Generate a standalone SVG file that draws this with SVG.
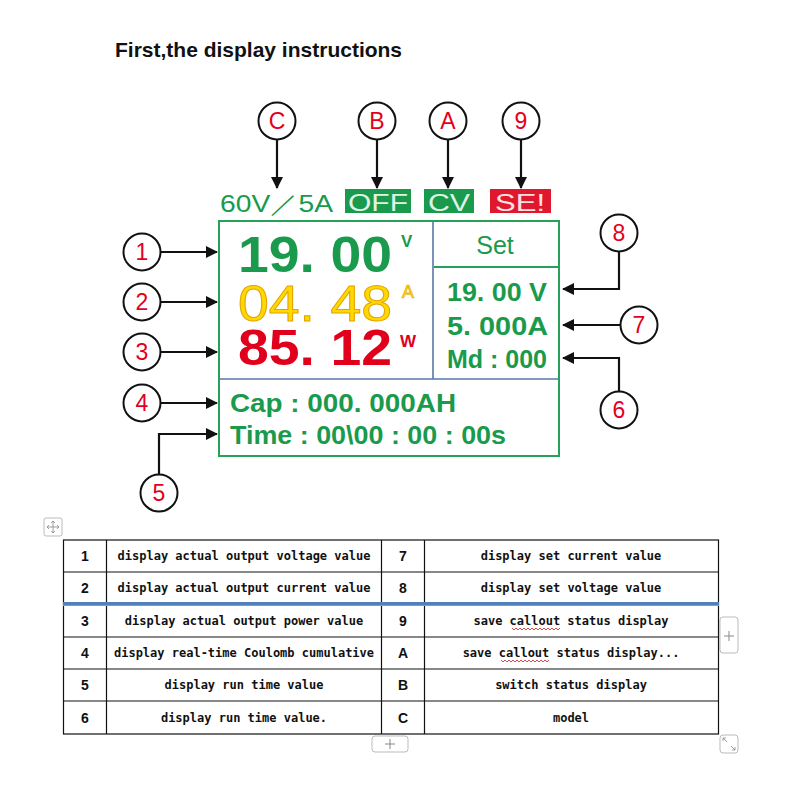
<svg xmlns="http://www.w3.org/2000/svg" width="800" height="800" viewBox="0 0 800 800">
<defs>
<marker id="ah" viewBox="0 0 12 12" refX="11" refY="6" markerWidth="12" markerHeight="12" markerUnits="userSpaceOnUse" orient="auto"><path d="M0,0 L12,6 L0,12 z" fill="#111"/></marker>
<style>
.t{font-family:"Liberation Sans",Arial,sans-serif}
.c{fill:#fff;stroke:#111;stroke-width:2}
.cl{font-family:"Liberation Sans",Arial,sans-serif;font-size:23px;fill:#e3001b;text-anchor:middle}
.ln{fill:none;stroke:#111;stroke-width:2.2}
.g{fill:#1a9a4c}
.big{font-family:"Liberation Sans",Arial,sans-serif;font-size:50px}
.mono{font-family:"DejaVu Sans Mono","Liberation Mono",monospace;font-weight:bold;font-size:12px;fill:#111;text-anchor:middle}
.num{font-family:"Liberation Sans",Arial,sans-serif;font-weight:bold;font-size:14px;fill:#111;text-anchor:middle}
.grid{stroke:#111;stroke-width:1.2;fill:none}
.ui{fill:#fff;stroke:#bbb;stroke-width:1}
.wav{fill:none;stroke:#d02020;stroke-width:0.8}
</style>
</defs>
<rect width="800" height="800" fill="#fff"/>
<text class="t" x="115" y="57" font-size="21" font-weight="bold" fill="#111">First,the display instructions</text>

<!-- connectors -->
<g id="connectors">
<path class="ln" d="M277,140 V188" marker-end="url(#ah)"/>
<path class="ln" d="M377,140 V188" marker-end="url(#ah)"/>
<path class="ln" d="M448,140 V188" marker-end="url(#ah)"/>
<path class="ln" d="M521,140 V188" marker-end="url(#ah)"/>
<path class="ln" d="M160,252 H217" marker-end="url(#ah)"/>
<path class="ln" d="M160,302 H217" marker-end="url(#ah)"/>
<path class="ln" d="M160,352 H217" marker-end="url(#ah)"/>
<path class="ln" d="M160,403 H217" marker-end="url(#ah)"/>
<path class="ln" d="M159,475 V434 H217" marker-end="url(#ah)"/>
<path class="ln" d="M619,251 V289 H563" marker-end="url(#ah)"/>
<path class="ln" d="M620,325 H563" marker-end="url(#ah)"/>
<path class="ln" d="M619,392 V358 H563" marker-end="url(#ah)"/>
</g>

<!-- callout circles -->
<g id="nC"><circle class="c" cx="277" cy="121" r="18.5"/><text class="cl" x="277" y="129">C</text></g>
<g id="nB"><circle class="c" cx="377" cy="121" r="18.5"/><text class="cl" x="377" y="129">B</text></g>
<g id="nA"><circle class="c" cx="448" cy="121" r="18.5"/><text class="cl" x="448" y="129">A</text></g>
<g id="n9"><circle class="c" cx="521" cy="121" r="18.5"/><text class="cl" x="521" y="129">9</text></g>
<g id="n1"><circle class="c" cx="142" cy="252" r="18.5"/><text class="cl" x="142" y="260">1</text></g>
<g id="n2"><circle class="c" cx="142" cy="302" r="18.5"/><text class="cl" x="142" y="310">2</text></g>
<g id="n3"><circle class="c" cx="142" cy="352" r="18.5"/><text class="cl" x="142" y="360">3</text></g>
<g id="n4"><circle class="c" cx="142" cy="403" r="18.5"/><text class="cl" x="142" y="411">4</text></g>
<g id="n5"><circle class="c" cx="159" cy="493" r="18.5"/><text class="cl" x="159" y="501">5</text></g>
<g id="n8"><circle class="c" cx="619" cy="233" r="18.5"/><text class="cl" x="619" y="241">8</text></g>
<g id="n7"><circle class="c" cx="639" cy="325" r="18.5"/><text class="cl" x="639" y="333">7</text></g>
<g id="n6"><circle class="c" cx="619" cy="410" r="18.5"/><text class="cl" x="619" y="418">6</text></g>

<!-- status row -->
<g id="status">
<text class="t g" x="220" y="212" font-size="24" textLength="113" lengthAdjust="spacingAndGlyphs">60V／5A</text>
<rect x="345" y="189" width="66" height="24" fill="#1a9a4c"/>
<text class="t" x="378" y="211" font-size="24" fill="#dff2e4" text-anchor="middle" textLength="60" lengthAdjust="spacingAndGlyphs">OFF</text>
<rect x="424" y="189" width="50" height="24" fill="#1a9a4c"/>
<text class="t" x="449" y="211" font-size="24" fill="#dff2e4" text-anchor="middle" textLength="42" lengthAdjust="spacingAndGlyphs">CV</text>
<rect x="490" y="189" width="61" height="24" fill="#e0182e"/>
<text class="t" x="520" y="211" font-size="24" fill="#fbe0e2" text-anchor="middle" textLength="50" lengthAdjust="spacingAndGlyphs">SE!</text>
</g>

<!-- display -->
<g id="display">
<rect x="219" y="221" width="340" height="235" fill="#fff" stroke="#27a05a" stroke-width="2"/>
<path d="M433,222 V379 M220,379 H558" stroke="#5a78aa" stroke-width="1.6" fill="none"/>
<path d="M434,267 H558" stroke="#27a05a" stroke-width="2" fill="none"/>
<text class="big" x="238" y="272" font-weight="bold" fill="#1a9a4c" textLength="154" lengthAdjust="spacingAndGlyphs">19. 00</text>
<text class="t" x="401" y="247" font-size="17" font-weight="bold" fill="#1a9a4c">V</text>
<text class="big" x="238" y="321" fill="#ffd800" stroke="#e2a400" stroke-width="1" textLength="154" lengthAdjust="spacingAndGlyphs">04. 48</text>
<text class="t" x="402" y="298" font-size="18" fill="#ffd800" stroke="#e2a400" stroke-width="0.6">A</text>
<text class="big" x="238" y="365" font-weight="bold" fill="#e0001b" textLength="154" lengthAdjust="spacingAndGlyphs">85. 12</text>
<text class="t" x="400" y="347" font-size="17" font-weight="bold" fill="#e0001b">W</text>
<text class="t g" x="495" y="254" font-size="25" text-anchor="middle">Set</text>
<text class="t g" x="447" y="301" font-size="25" font-weight="bold" textLength="100" lengthAdjust="spacingAndGlyphs">19. 00 V</text>
<text class="t g" x="447" y="335" font-size="25" font-weight="bold" textLength="101" lengthAdjust="spacingAndGlyphs">5. 000A</text>
<text class="t g" x="447" y="368" font-size="25" font-weight="bold" textLength="100" lengthAdjust="spacingAndGlyphs">Md : 000</text>
<text class="t g" x="230" y="412" font-size="26" font-weight="bold" textLength="226" lengthAdjust="spacingAndGlyphs">Cap : 000. 000AH</text>
<text class="t g" x="230" y="444" font-size="26" font-weight="bold" textLength="276" lengthAdjust="spacingAndGlyphs">Time : 00\00 : 00 : 00s</text>
</g>

<!-- word-processor UI handles -->
<g id="ui">
<rect class="ui" x="44" y="518" width="18" height="18" rx="2"/>
<path d="M53,521 V533 M47,527 H59 M51,523 L53,521 L55,523 M51,531 L53,533 L55,531 M49,525 L47,527 L49,529 M57,525 L59,527 L57,529" stroke="#888" stroke-width="0.8" fill="none"/>
<rect class="ui" x="720" y="617" width="18" height="36" rx="3"/>
<path d="M724,636 H734 M729,631 V641" stroke="#888" stroke-width="1"/>
<rect class="ui" x="372" y="736" width="36" height="16" rx="3"/>
<path d="M385,744 H395 M390,739 V749" stroke="#888" stroke-width="1"/>
<rect class="ui" x="720" y="735" width="18" height="18" rx="3"/>
<path d="M723,738 L727,742 M723,738 H726 M723,738 V741 M735,750 L731,746 M735,750 H732 M735,750 V747" stroke="#888" stroke-width="0.8" fill="none"/>
</g>

<!-- table -->
<g id="table">
<rect class="grid" x="63.5" y="540" width="655" height="194"/>
<path class="grid" d="M106.5,540 V734 M381.5,540 V734 M424.5,540 V734 M63.5,572 H718.5 M63.5,637 H718.5 M63.5,669 H718.5 M63.5,701 H718.5"/>
<rect x="63" y="602" width="656" height="3" fill="#4f81bd"/>
<rect x="63" y="605" width="656" height="1" fill="#999"/>
<text class="num" x="85" y="561">1</text>
<text class="num" x="85" y="593">2</text>
<text class="num" x="85" y="626">3</text>
<text class="num" x="85" y="658">4</text>
<text class="num" x="85" y="690">5</text>
<text class="num" x="85" y="723">6</text>
<text class="num" x="403" y="561">7</text>
<text class="num" x="403" y="593">8</text>
<text class="num" x="403" y="626">9</text>
<text class="num" x="403" y="658">A</text>
<text class="num" x="403" y="690">B</text>
<text class="num" x="403" y="723">C</text>
<text class="mono" x="244" y="560">display actual output voltage value</text>
<text class="mono" x="244" y="592">display actual output current value</text>
<text class="mono" x="244" y="625">display actual output power value</text>
<text class="mono" x="244" y="657">display real-time Coulomb cumulative</text>
<text class="mono" x="244" y="689">display run time value</text>
<text class="mono" x="244" y="722">display run time value.</text>
<text class="mono" x="571" y="560">display set current value</text>
<text class="mono" x="571" y="592">display set voltage value</text>
<text class="mono" x="571" y="625">save callout status display</text>
<text class="mono" x="571" y="657">save callout status display...</text>
<text class="mono" x="571" y="689">switch status display</text>
<text class="mono" x="571" y="722">model</text>
<path class="wav" d="M512,628 l2,2 l2,-2 l2,2 l2,-2 l2,2 l2,-2 l2,2 l2,-2 l2,2 l2,-2 l2,2 l2,-2 l2,2 l2,-2 l2,2 l2,-2 l2,2 l2,-2 l2,2 l2,-2 l2,2 l2,-2 l2,2 l2,-2"/>
<path class="wav" d="M501,660 l2,2 l2,-2 l2,2 l2,-2 l2,2 l2,-2 l2,2 l2,-2 l2,2 l2,-2 l2,2 l2,-2 l2,2 l2,-2 l2,2 l2,-2 l2,2 l2,-2 l2,2 l2,-2 l2,2 l2,-2 l2,2 l2,-2"/>
</g>
</svg>
